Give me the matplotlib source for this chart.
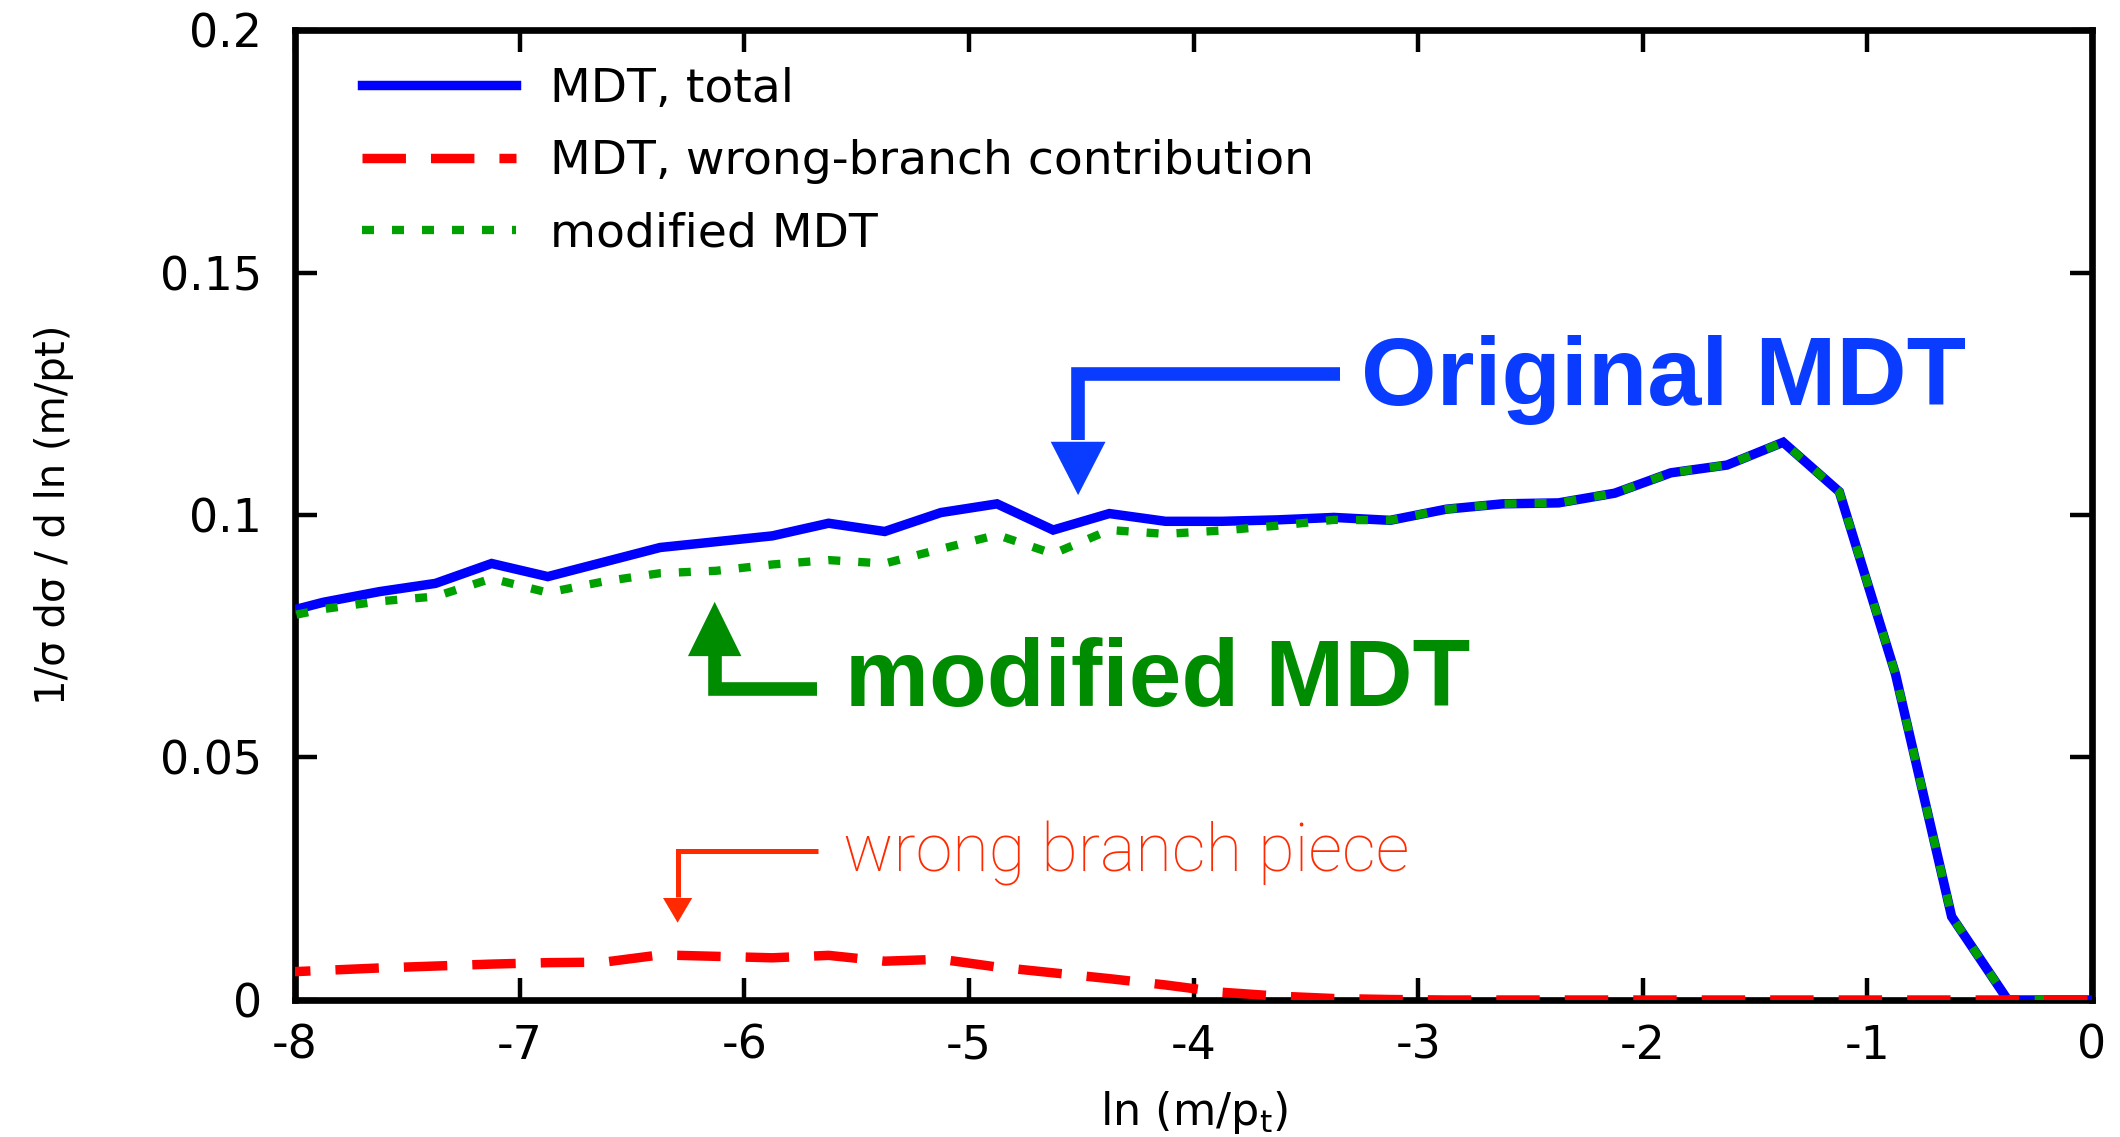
import matplotlib
matplotlib.use("Agg")
import matplotlib.pyplot as plt

plt.rcParams['axes.unicode_minus'] = False
plt.rcParams['mathtext.default'] = 'regular'
plt.rcParams['font.family'] = ['DejaVu Sans']

# ---- data -------------------------------------------------------------
ln_m_over_pt = [-8.125, -7.875, -7.625, -7.375, -7.125, -6.875, -6.625, -6.375,
                -6.125, -5.875, -5.625, -5.375, -5.125, -4.875, -4.625, -4.375,
                -4.125, -3.875, -3.625, -3.375, -3.125, -2.875, -2.625, -2.375,
                -2.125, -1.875, -1.625, -1.375, -1.125, -0.875, -0.625, -0.375,
                -0.125, 0.125]

mdt_total = [0.0790, 0.0820, 0.0842, 0.0859, 0.0900, 0.0873, 0.0903, 0.0933,
             0.0945, 0.0957, 0.0983, 0.0966, 0.1005, 0.1023, 0.0969, 0.1003,
             0.0987, 0.0987, 0.0990, 0.0995, 0.0989, 0.1012, 0.1023, 0.1025,
             0.1045, 0.1087, 0.1103, 0.1150, 0.1048, 0.0672, 0.0172, 0.0,
             0.0, 0.0]

mdt_wrong_branch = [0.0056, 0.0061, 0.0066, 0.0070, 0.0074, 0.0077, 0.0078, 0.0093,
                    0.0090, 0.0087, 0.0092, 0.0080, 0.0084, 0.0068, 0.0056, 0.0044,
                    0.0031, 0.0016, 0.0008, 0.0003, 0.0001, 0.0, 0.0, 0.0,
                    0.0, 0.0, 0.0, 0.0, 0.0, 0.0, 0.0, 0.0,
                    0.0, 0.0]

modified_mdt = [0.0782, 0.0806, 0.0822, 0.0832, 0.0869, 0.0840, 0.0863, 0.0880,
                0.0885, 0.0898, 0.0907, 0.0900, 0.0930, 0.0959, 0.0920, 0.0969,
                0.0961, 0.0968, 0.0978, 0.0990, 0.0989, 0.1012, 0.1023, 0.1025,
                0.1045, 0.1087, 0.1103, 0.1150, 0.1048, 0.0672, 0.0172, 0.0,
                0.0, 0.0]

series_labels = ["MDT, total", "MDT, wrong-branch contribution", "modified MDT"]
xtick_values = [-8, -7, -6, -5, -4, -3, -2, -1, 0]
xtick_labels = ["-8", "-7", "-6", "-5", "-4", "-3", "-2", "-1", "0"]
ytick_values = [0, 0.05, 0.1, 0.15, 0.2]
ytick_labels = ["0", "0.05", "0.1", "0.15", "0.2"]

# ---- figure -----------------------------------------------------------
fig = plt.figure(figsize=(21.2, 11.37), dpi=100)
ax = fig.add_axes([0.1392, 0.1205, 0.8476, 0.8531])

ax.plot(ln_m_over_pt, mdt_total, color='#0000ff', lw=6.8,
        solid_joinstyle='miter', label=series_labels[0], zorder=3)
ax.plot(ln_m_over_pt, modified_mdt, color='#00a000', lw=6.0,
        dashes=(1.44, 2.16), dash_capstyle='butt', label=series_labels[2], zorder=4)
ax.plot(ln_m_over_pt, mdt_wrong_branch, color='#ff0000', lw=6.8,
        dashes=(4.6, 2.65), dash_capstyle='butt', label=series_labels[1], zorder=5)

ax.set_xlim(-8, 0)
ax.set_ylim(0, 0.2)
ax.set_xticks(xtick_values)
ax.set_xticklabels(xtick_labels)
ax.set_yticks(ytick_values)
ax.set_yticklabels(ytick_labels)

for sp in ax.spines.values():
    sp.set_linewidth(4.8)
ax.tick_params(direction='in', length=16, width=3.2, labelsize=33,
               top=True, right=True)
ax.tick_params(axis='y', pad=24)
ax.tick_params(axis='x', pad=17)

ax.set_xlabel(r"ln (m/p$_{t}$)", fontsize=32, labelpad=15)
ax.set_ylabel("1/\u03c3 d\u03c3 / d ln (m/pt)", fontsize=29)
ax.yaxis.set_label_coords(-0.1233, 0.5)

handles, labels = ax.get_legend_handles_labels()
order = [0, 2, 1]
leg = ax.legend([handles[i] for i in order], [labels[i] for i in order],
                loc='upper left', bbox_to_anchor=(0.0375, 0.962),
                frameon=False, fontsize=34, borderpad=0, borderaxespad=0,
                handlelength=3.26, handletextpad=0.72, labelspacing=0.58)

# ---- annotations ------------------------------------------------------
blue_txt = '#0a3cff'
green_txt = '#008c00'
red_txt = '#ff2a00'

# Original MDT
ax.text(-3.254, 0.1227, "Original MDT", color=blue_txt, fontsize=70,
        fontweight='bold', family=['Liberation Sans', 'DejaVu Sans'],
        va='baseline', ha='left')
ax.plot([-3.347, -4.514, -4.514], [0.1291, 0.1291, 0.1155], color=blue_txt,
        lw=9.8, solid_joinstyle='miter', solid_capstyle='butt', zorder=6)
ax.fill([-4.636, -4.392, -4.514], [0.1151, 0.1151, 0.1041], color=blue_txt,
        lw=0, zorder=6)

# modified MDT
ax.text(-5.551, 0.0606, "modified MDT", color=green_txt, fontsize=68,
        fontweight='bold', family=['Liberation Sans', 'DejaVu Sans'],
        va='baseline', ha='left')
ax.plot([-5.677, -6.132, -6.132], [0.0641, 0.0641, 0.0712], color=green_txt,
        lw=9.8, solid_joinstyle='miter', solid_capstyle='butt', zorder=6)
ax.fill([-6.251, -6.013, -6.132], [0.0709, 0.0709, 0.0821], color=green_txt,
        lw=0, zorder=6)

# wrong branch piece
ax.text(-5.56, 0.02646, "wrong branch piece", color=red_txt, fontsize=48,
        fontweight='light', family=['Roboto', 'Liberation Sans', 'DejaVu Sans'],
        va='baseline', ha='left')
ax.plot([-5.670, -6.297, -6.297], [0.03076, 0.03076, 0.0212], color=red_txt,
        lw=3.6, solid_joinstyle='miter', solid_capstyle='butt', zorder=6)
ax.fill([-6.362, -6.232, -6.297], [0.02103, 0.02103, 0.01594], color=red_txt,
        lw=0, zorder=6)

fig.savefig("out.png", dpi=100)
